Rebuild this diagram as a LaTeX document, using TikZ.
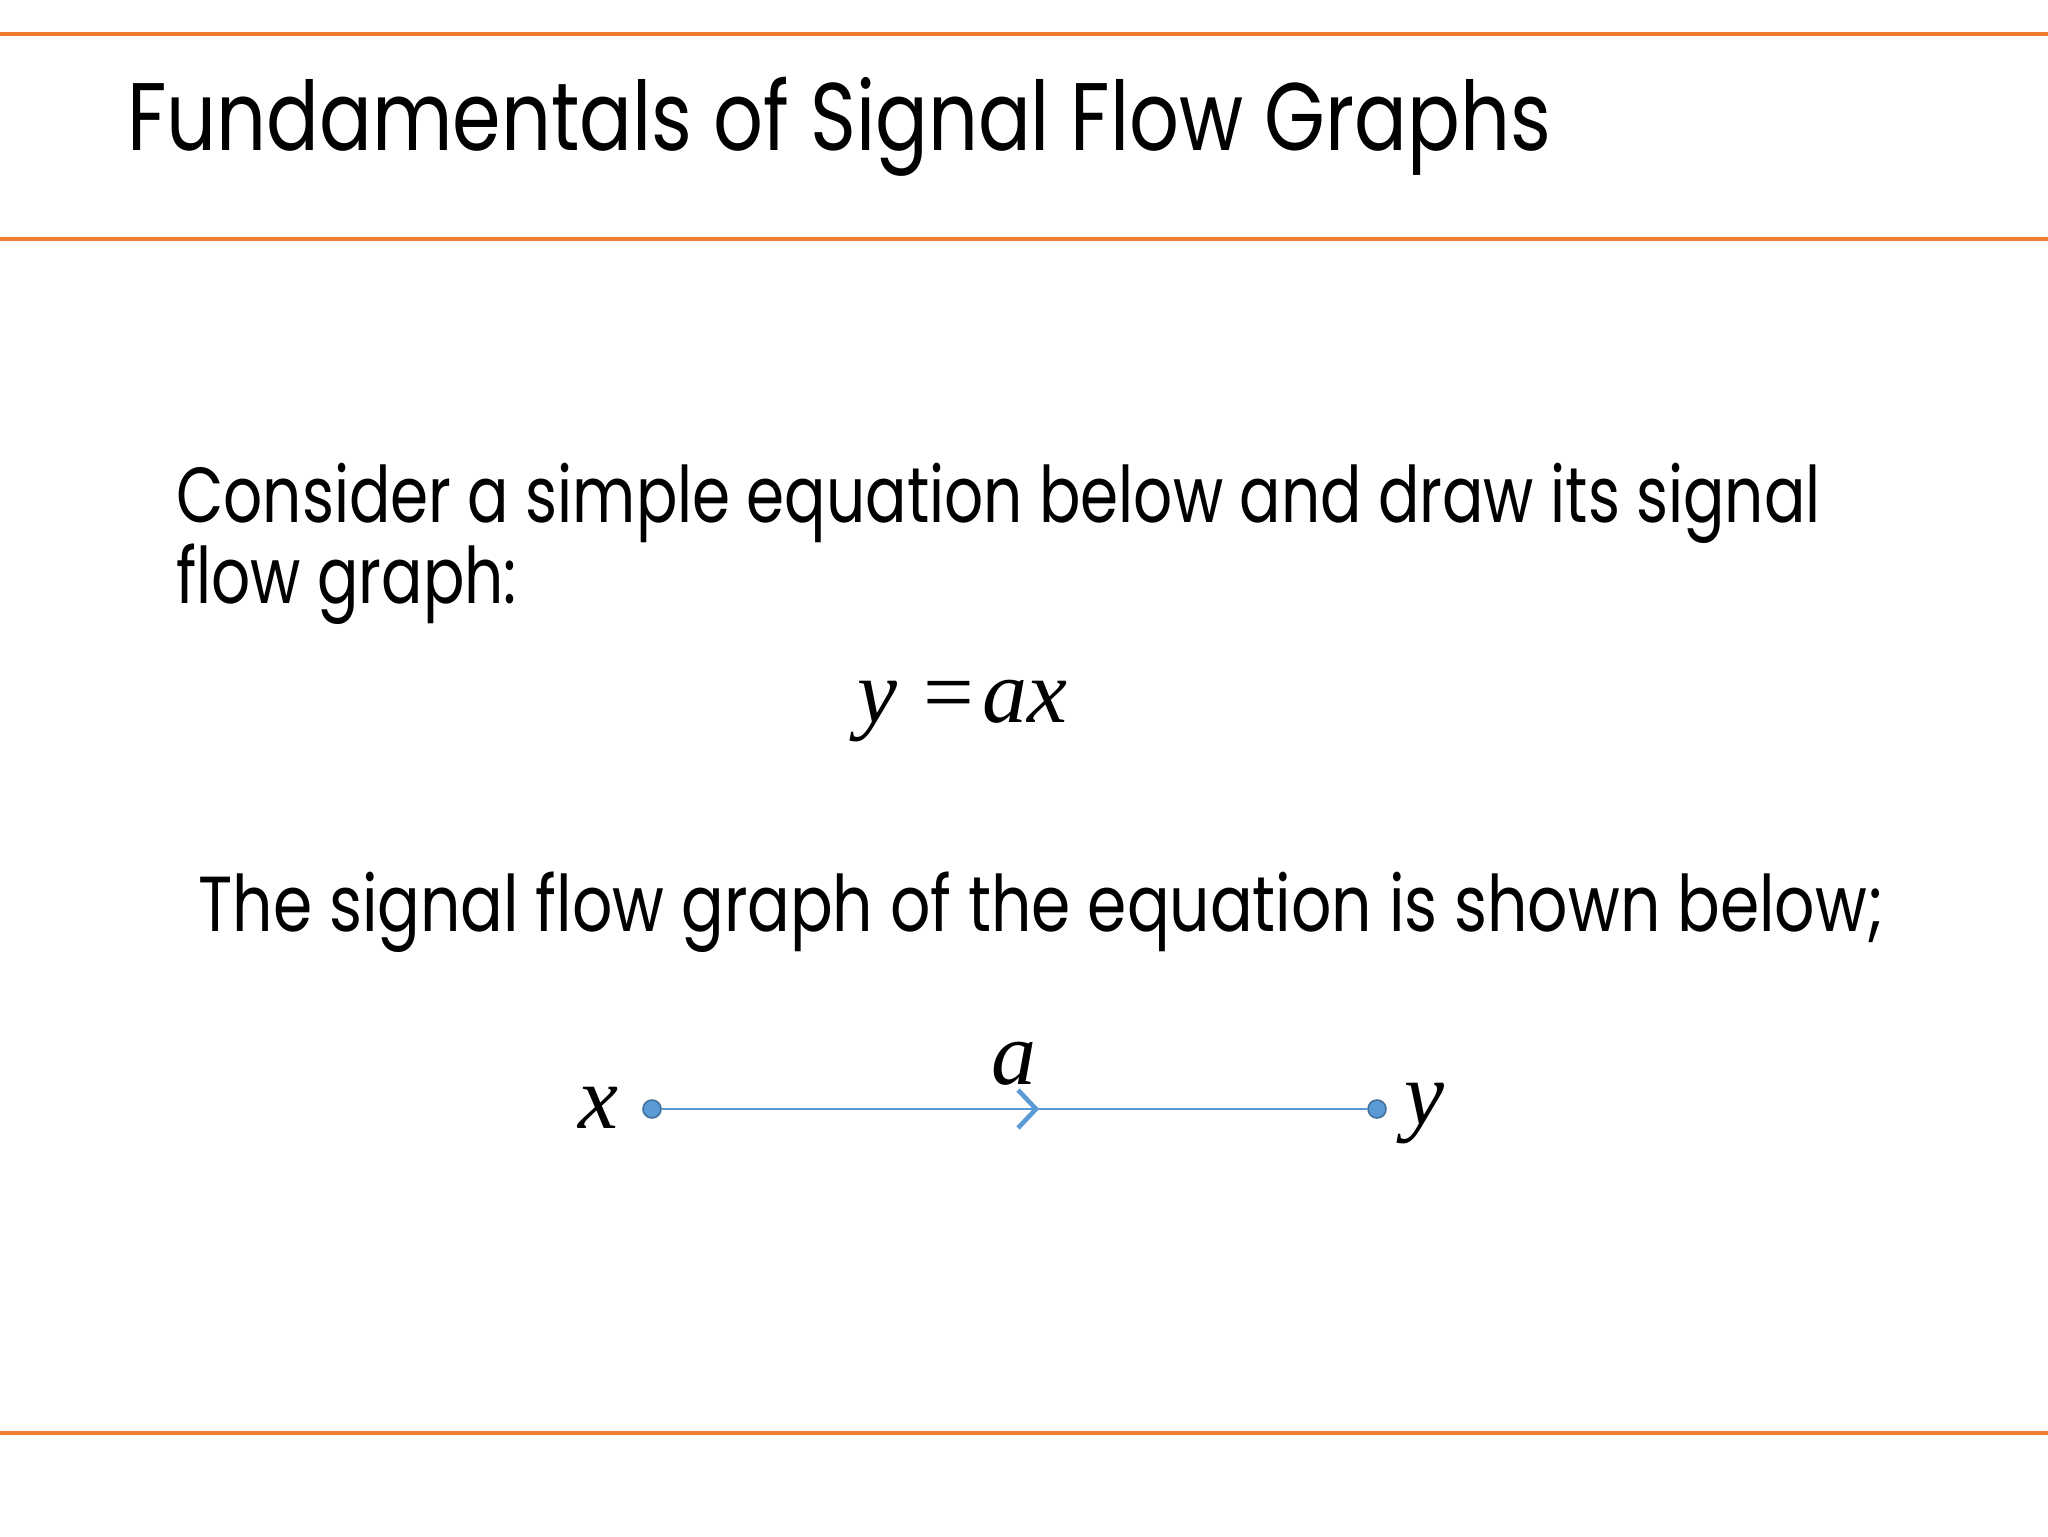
\documentclass[tikz,border=0pt]{standalone}
\usepackage{fontspec}
\setmainfont[FakeStretch=0.814]{Poppins}
\newfontfamily\bodyfontA[FakeStretch=0.786]{Poppins}
\newfontfamily\bodyfontB[FakeStretch=0.81]{Poppins}
\newfontfamily\mathserif{Liberation Serif}
\usetikzlibrary{arrows.meta,decorations.markings}
\definecolor{orangeline}{HTML}{ED7D31}
\definecolor{sfgblue}{HTML}{5B9BD5}
\definecolor{sfgdark}{HTML}{41719C}
\begin{document}
\begin{tikzpicture}[x=0.5pt,y=-0.5pt,
  rule/.style={draw=orangeline,line width=1.8pt},
  titletext/.style={anchor=base west,inner sep=0,font=\fontsize{48}{52}\selectfont},
  bodytext/.style={anchor=base west,inner sep=0,font=\bodyfontA\fontsize{39}{44}\selectfont},
  bodytextb/.style={anchor=base west,inner sep=0,font=\bodyfontB\fontsize{39}{44}\selectfont},
  mathlbl/.style={inner sep=0,font=\mathserif\itshape\fontsize{45}{50}\selectfont},
  sfgnode/.style={circle,fill=sfgblue,draw=sfgdark,line width=0.8pt,minimum size=9pt,inner sep=0},
  branch/.style={draw=sfgblue,line width=1.1pt}]
\useasboundingbox (0,0) rectangle (2048,1536);
\fill[white] (0,0) rectangle (2048,1536);
\draw[rule] (0,34) -- (2048,34);
\draw[rule] (0,239) -- (2048,239);
\draw[rule] (0,1433) -- (2048,1433);
\node[titletext] (title) at (127,150) {Fundamentals of Signal Flow Graphs};
\node[bodytext] (l1) at (176,522) {Consider a simple equation below and draw its signal};
\node[bodytext] (l2) at (176,603) {flow graph:};
\node[bodytextb] (l3) at (198,931) {The signal flow graph of the equation is shown below;};
\node[mathlbl,anchor=base west] (eq) at (857,722) {y\kern13pt{\upshape =}\kern4pt ax};
\node[sfgnode] (nx) at (652,1109) {};
\node[sfgnode] (ny) at (1377,1109) {};
\draw[branch,postaction={decorate},
  decoration={markings,mark=at position 0.535 with {\arrow[sfgblue,line width=2.3pt]{Straight Barb[length=9pt,width=19pt]}}}]
  (nx) -- (ny);
\node[mathlbl,anchor=base] (lx) at (598,1128) {x};
\node[mathlbl,anchor=base] (ly) at (1424,1124) {y};
\node[mathlbl,anchor=base] (la) at (1014,1084) {a};
\end{tikzpicture}
\end{document}
